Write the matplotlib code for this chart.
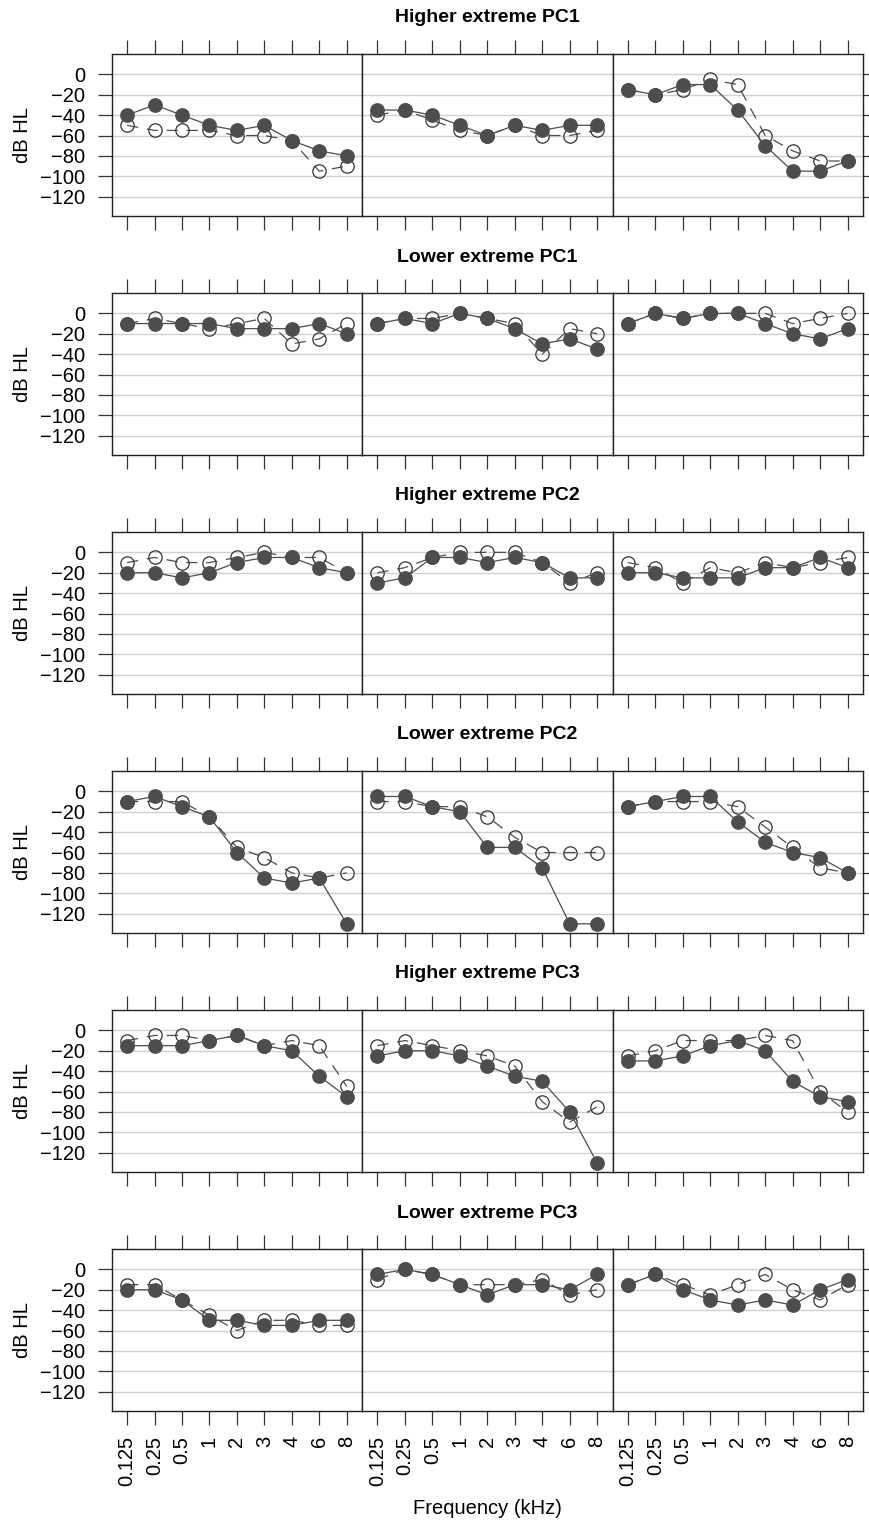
import matplotlib.pyplot as plt
import numpy as np

plt.rcParams['font.family'] = ['Liberation Sans', 'DejaVu Sans']

freq_labels = ['0.125', '0.25', '0.5', '1', '2', '3', '4', '6', '8']
row_titles = ['Higher extreme PC1', 'Lower extreme PC1',
              'Higher extreme PC2', 'Lower extreme PC2',
              'Higher extreme PC3', 'Lower extreme PC3']

# each row: three panels (filled = solid line, open = dashed line)
hi_pc1_filled = [[-40, -30, -40, -50, -55, -50, -65, -75, -80],
                 [-35, -35, -40, -50, -60, -50, -55, -50, -50],
                 [-15, -20, -10, -10, -35, -70, -95, -95, -85]]
hi_pc1_open = [[-50, -55, -55, -55, -60, -60, -65, -95, -90],
               [-40, -35, -45, -55, -60, -50, -60, -60, -55],
               [-15, -20, -15, -5, -10, -60, -75, -85, -85]]

lo_pc1_filled = [[-10, -10, -10, -10, -15, -15, -15, -10, -20],
                 [-10, -5, -10, 0, -5, -15, -30, -25, -35],
                 [-10, 0, -5, 0, 0, -10, -20, -25, -15]]
lo_pc1_open = [[-10, -5, -10, -15, -10, -5, -30, -25, -10],
               [-10, -5, -5, 0, -5, -10, -40, -15, -20],
               [-10, 0, -5, 0, 0, 0, -10, -5, 0]]

hi_pc2_filled = [[-20, -20, -25, -20, -10, -5, -5, -15, -20],
                 [-30, -25, -5, -5, -10, -5, -10, -25, -25],
                 [-20, -20, -25, -25, -25, -15, -15, -5, -15]]
hi_pc2_open = [[-10, -5, -10, -10, -5, 0, -5, -5, -20],
               [-20, -15, -5, 0, 0, 0, -10, -30, -20],
               [-10, -15, -30, -15, -20, -10, -15, -10, -5]]

lo_pc2_filled = [[-10, -5, -15, -25, -60, -85, -90, -85, -130],
                 [-5, -5, -15, -20, -55, -55, -75, -130, -130],
                 [-15, -10, -5, -5, -30, -50, -60, -65, -80]]
lo_pc2_open = [[-10, -10, -10, -25, -55, -65, -80, -85, -80],
               [-10, -10, -15, -15, -25, -45, -60, -60, -60],
               [-15, -10, -10, -10, -15, -35, -55, -75, -80]]

hi_pc3_filled = [[-15, -15, -15, -10, -5, -15, -20, -45, -65],
                 [-25, -20, -20, -25, -35, -45, -50, -80, -130],
                 [-30, -30, -25, -15, -10, -20, -50, -65, -70]]
hi_pc3_open = [[-10, -5, -5, -10, -5, -15, -10, -15, -55],
               [-15, -10, -15, -20, -25, -35, -70, -90, -75],
               [-25, -20, -10, -10, -10, -5, -10, -60, -80]]

lo_pc3_filled = [[-20, -20, -30, -50, -50, -55, -55, -50, -50],
                 [-5, 0, -5, -15, -25, -15, -15, -20, -5],
                 [-15, -5, -20, -30, -35, -30, -35, -20, -10]]
lo_pc3_open = [[-15, -15, -30, -45, -60, -50, -50, -55, -55],
               [-10, 0, -5, -15, -15, -15, -10, -25, -20],
               [-15, -5, -15, -25, -15, -5, -20, -30, -15]]

filled_rows = [hi_pc1_filled, lo_pc1_filled, hi_pc2_filled,
               lo_pc2_filled, hi_pc3_filled, lo_pc3_filled]
open_rows = [hi_pc1_open, lo_pc1_open, hi_pc2_open,
             lo_pc2_open, hi_pc3_open, lo_pc3_open]

W, H = 869, 1528
fig = plt.figure(figsize=(W / 100, H / 100), dpi=100)

x = np.arange(len(freq_labels))
x0, pw = 111.7, 250.4      # panel left / width in pixels
top0, rstep, ph = 54, 239, 162

dark = '#4d4d4d'
fs = 14.5

for r in range(6):
    top = top0 + rstep * r
    for c in range(3):
        left = x0 + pw * c
        ax = fig.add_axes([left / W, 1 - (top + ph) / H, pw / W, ph / H])
        ax.set_xlim(-0.56, 8.56)
        ax.set_ylim(-139, 20)
        for yv in range(0, -121, -20):
            ax.axhline(yv, color='#d0d0d0', lw=1, zorder=0)
        ax.plot(x, open_rows[r][c], color=dark, lw=0.9,
                linestyle=(0, (9, 7)), marker='o', ms=9.6,
                mfc='none', mec='#333333', mew=0.9, zorder=2)
        ax.plot(x, filled_rows[r][c], color=dark, lw=0.9,
                marker='o', ms=9.6, mfc=dark, mec=dark, zorder=3)

        for s in ax.spines.values():
            s.set_color('#222222')
            s.set_linewidth(1)

        ax.set_xticks(x)
        ax.tick_params(axis='x', direction='out', length=10, width=0.9,
                       color='#333333', top=True, bottom=True,
                       labeltop=False, labelbottom=(r == 5),
                       labelsize=fs, pad=8)
        if r == 5:
            ax.set_xticklabels(freq_labels, rotation=90)

        ax.set_yticks(range(0, -121, -20))
        ax.set_yticklabels(['0'] + ['\u2212%d' % v for v in range(20, 121, 20)])
        ax.tick_params(axis='y', direction='out', length=10, width=0.9,
                       color='#333333', labelsize=fs,
                       left=(c == 0), right=(c == 2),
                       labelleft=(c == 0), labelright=False, pad=9)
        if c == 0:
            ax.set_ylabel('dB HL', fontsize=fs, labelpad=6)

    fig.text((x0 + 1.5 * pw) / W, 1 - (top - 36) / H, row_titles[r],
             ha='center', va='center', fontsize=14, fontweight='bold')

fig.text((x0 + 1.5 * pw) / W, 1 - 1508 / H, 'Frequency (kHz)',
         ha='center', va='center', fontsize=fs)

fig.savefig('out.png', dpi=100)
